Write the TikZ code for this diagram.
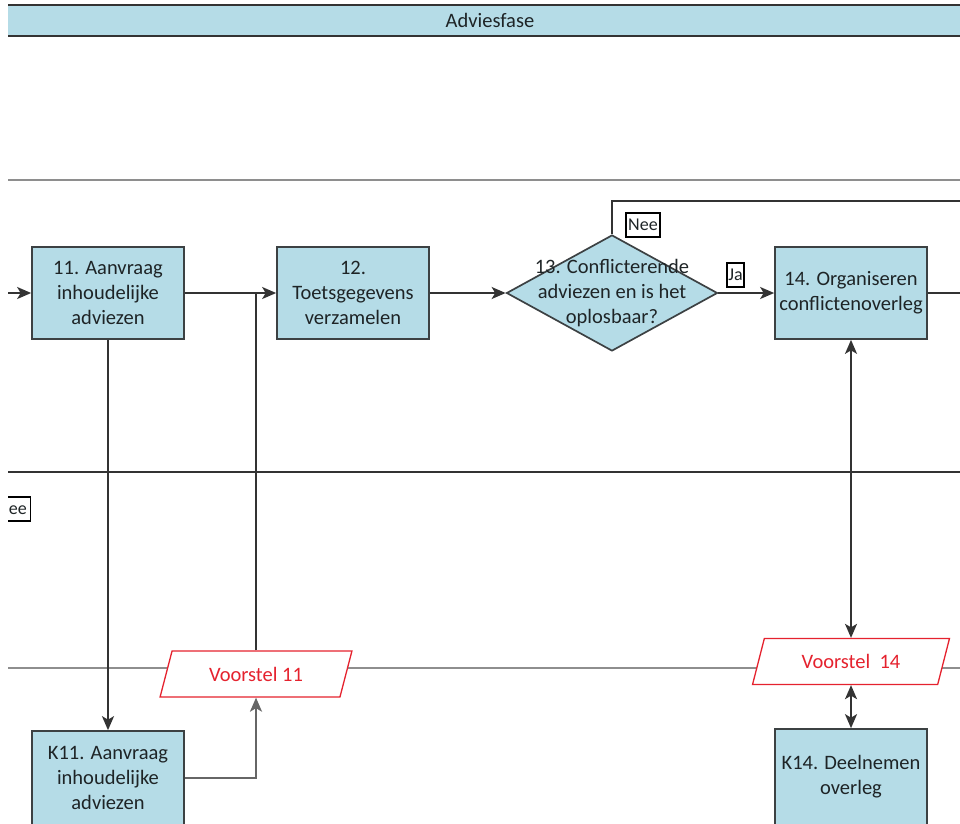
\documentclass[tikz,border=0pt]{standalone}
\usepackage{fontspec}
\setmainfont{Carlito}
\usetikzlibrary{shapes.geometric,arrows.meta}

\definecolor{boxfill}{HTML}{B5DCE7}
\definecolor{boxline}{HTML}{3C4143}
\definecolor{lanegray}{HTML}{8E8E8E}
\definecolor{lanedark}{HTML}{333333}
\definecolor{docred}{HTML}{E5222E}
\definecolor{linkgray}{HTML}{666666}
\definecolor{ink}{HTML}{1E2426}

\newcommand\boxfont{\fontsize{20.5}{25}\selectfont}
\newcommand\lblfont{\fontsize{18}{20}\selectfont}

\tikzset{
  proc/.style={draw=boxline, line width=1.7pt, fill=boxfill,
    minimum width=152pt, minimum height=92pt, inner sep=0pt,
    align=center, font=\boxfont, text=ink},
  decision/.style={diamond, draw=boxline, line width=1.7pt, fill=boxfill,
    minimum width=211pt, minimum height=116pt, inner sep=0pt},
  doc/.style={trapezium, trapezium left angle=65, trapezium right angle=115,
    trapezium stretches=true, draw=docred, line width=1.3pt, fill=white,
    text=docred, font=\boxfont, minimum height=46pt, inner sep=0pt},
  lbl/.style={draw=black, line width=1.4pt, fill=white, font=\lblfont,
    text=ink, inner xsep=1pt, inner ysep=1pt, minimum height=24pt},
  conn/.style={draw=lanedark, line width=1.9pt},
  flow/.style={conn, -{Stealth[length=14pt,width=12pt,inset=3.5pt]}},
  both/.style={conn, {Stealth[length=14pt,width=12pt,inset=3.5pt]}-{Stealth[length=14pt,width=12pt,inset=3.5pt]}},
  lane/.style={line width=1.9pt},
}

\begin{document}
\begin{tikzpicture}[x=1pt,y=-1pt]
\useasboundingbox (0,0) rectangle (960,823);
\clip (8,0) rectangle (960,823);

% phase header
\fill[boxfill] (8,6) rectangle (960,36);
\draw[lanedark, line width=2.8pt] (8,5) -- (960,5) (8,36) -- (960,36);
\node[font=\boxfont, text=ink] (phase) at (490,20) {Adviesfase};

% swimlane borders
\draw[lane, lanegray] (8,180) -- (960,180);
\draw[lane, lanedark] (8,472) -- (960,472);
\draw[lane, lanegray] (8,668) -- (960,668);

% process steps
\node[proc] (b11) at (108,293) {11. Aanvraag\\inhoudelijke\\adviezen};
\node[proc] (b12) at (353,293) {12.\\Toetsgegevens\\verzamelen};
\node[decision] (d13) at (612,293) {};
\node[align=center, font=\boxfont, text=ink] (t13) at (612,293)
  {13. Conflicterende\\adviezen en is het\\oplosbaar?};
\node[proc] (b14) at (851,293) {14. Organiseren\\conflictenoverleg};

\node[proc, minimum height=94pt] (k11) at (108,778) {K11. Aanvraag\\inhoudelijke\\adviezen};
\node[proc, minimum height=96pt] (k14) at (851,777) {K14. Deelnemen\\overleg};

% documents
\node[doc, minimum width=192pt] (v11) at (256,674) {Voorstel 11};
\node[doc, minimum width=197pt] (v14) at (851,661.5) {Voorstel\ \ 14};

% main flow
\coordinate (inL) at (8,293);
\coordinate (outR) at (962,293);
\coordinate (loopR) at (962,201);
\draw[flow] (inL) -- (b11);
\draw[flow] (b11) -- (b12);
\draw[flow] (b12) -- (d13);
\draw[flow] (d13) -- (b14);
\draw[conn] (b14) -- (outR);
\draw[conn] (d13.north) |- (loopR);

% flows between lanes
\draw[flow] (b11) -- (k11);
\draw[flow, draw=linkgray] (k11.east) -| (v11.south);
\draw[conn] (v11.north) -- (v11.north |- b12.west);
\draw[both] (v14) -- (b14);
\draw[both] (v14) -- (k14);

% decision labels
\node[lbl, minimum width=34pt] (nee) at (643,225) {Nee};
\node[lbl, minimum width=17pt] (ja) at (735.5,275) {Ja};
\node[lbl, inner xsep=3.5pt, anchor=east] (neeL) at (31,509) {Nee};
\end{tikzpicture}
\end{document}
